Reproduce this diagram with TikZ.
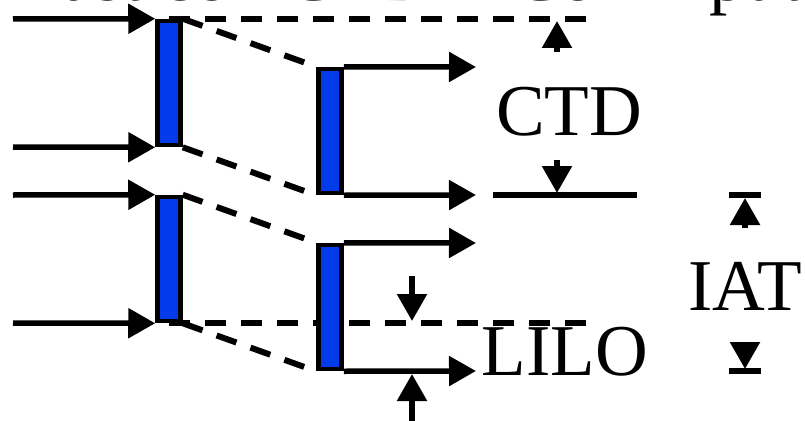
\documentclass[tikz,border=0pt]{standalone}
\usepackage{fontspec}
\setmainfont{Liberation Serif}
\usetikzlibrary{arrows.meta}
\definecolor{cellblue}{RGB}{3,59,234}

\begin{document}
\begin{tikzpicture}[x=1pt, y=-1pt, line width=5.5pt, >={Triangle[length=27pt,width=29pt]},
  cell node/.style={draw, fill=cellblue, line width=4.5pt, minimum width=23pt, minimum height=124pt, inner sep=0pt},
  label node/.style={inner sep=0pt, anchor=base, font=\fontsize{73}{80}\selectfont},
  dash line/.style={line width=6pt, dash pattern=on 21pt off 15pt}]
\useasboundingbox (0,0) rectangle (805,420);
\clip (0,0) rectangle (805,420);
\node[label node, anchor=base west](title1) at (15,1){Last cell CTD};
\node[label node, anchor=base east](title2) at (805,1){Cell input};
\coordinate (in0) at (13,19);
\coordinate (in1) at (13,147);
\coordinate (in2) at (13,195);
\coordinate (in3) at (13,323);
\draw[dash line](169,19)--(588,19) coordinate (ctdtop);
\draw[dash line](169,323)--(588,323) coordinate (lilotop);
\node[cell node](c0) at (169,83){};
\node[cell node](c1) at (169,259){};
\node[cell node](d0) at (330,131){};
\node[cell node](d1) at (330,307){};
\draw[->](in0)to(c0.north west);
\draw[->](in1)to(c0.south west);
\draw[->](in2)to(c1.north west);
\draw[->](in3)to(c1.south west);
\draw[dash line](c0.north east)to(d0.north west);
\draw[dash line](c0.south east)to(d0.south west);
\draw[dash line](c1.north east)to(d1.north west);
\draw[dash line](c1.south east)to(d1.south west);
\draw[->](d0.north east)to(476,67);
\draw[->](d0.south east)to(476,195);
\draw[->](d1.north east)to(476,243);
\draw[->](d1.south east)to(476,371);
% CTD
\draw(493,195)--(637,195);
\draw[->](557,52)--(557,21);
\draw[->](557,160)--(557,193);
\node[label node](ctd) at (569,135){CTD};
% IAT
\draw(729,195)--(761,195);
\draw(729,371)--(761,371);
\draw[->](745,228)--(745,198);
\draw[->](745,342)--(745,369);
\node[label node](iat) at (745,310){IAT};
% LILO
\draw[->](412,276)--(412,321);
\draw[->](412,422)--(412,374);
\node[label node](lilo) at (565,375){LILO};
\end{tikzpicture}
\end{document}
